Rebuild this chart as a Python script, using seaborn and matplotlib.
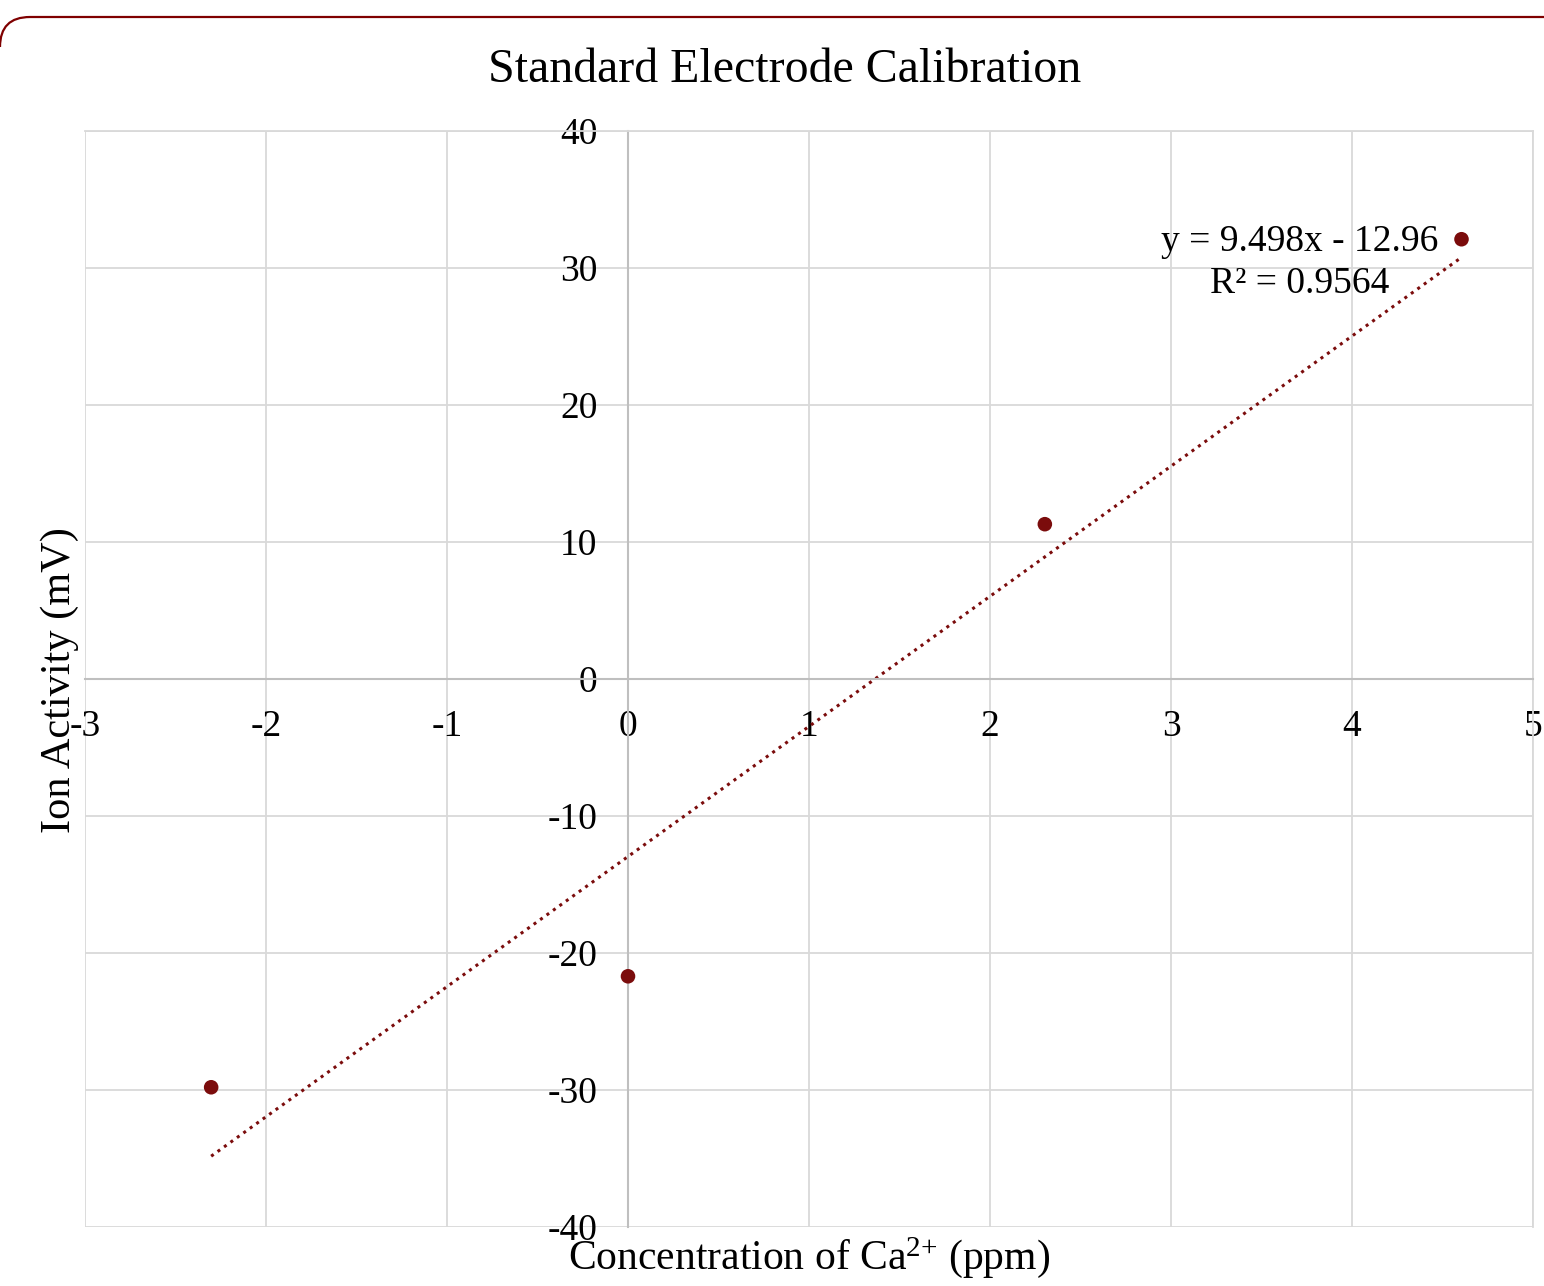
import matplotlib
matplotlib.use("Agg")
import matplotlib.pyplot as plt
import seaborn as sns
import pandas as pd
from matplotlib.patches import PathPatch
from matplotlib.path import Path
from matplotlib.transforms import IdentityTransform

# calibration data: ln(concentration) vs electrode potential
conc_ln = [-2.303, 0.0, 2.303, 4.605]
ion_mv = [-29.8, -21.7, 11.3, 32.1]
x_ticks = [-3, -2, -1, 0, 1, 2, 3, 4, 5]
y_ticks = [-40, -30, -20, -10, 0, 10, 20, 30, 40]
fit_text = "y = 9.498x - 12.96\nR\u00b2 = 0.9564"

df = pd.DataFrame({"conc": conc_ln, "mv": ion_mv})

sns.set_style("white")
plt.rcParams["font.family"] = ["Liberation Serif", "DejaVu Serif"]
plt.rcParams["mathtext.fontset"] = "custom"
plt.rcParams["mathtext.rm"] = "Liberation Serif"
plt.rcParams["mathtext.it"] = "Liberation Serif"
plt.rcParams["mathtext.default"] = "regular"
plt.rcParams["axes.unicode_minus"] = False
plt.rcParams["text.color"] = "black"

dark_red = "#7b0c0c"
grid_col = "#d9d9d9"

fig = plt.figure(figsize=(15.44, 12.86), dpi=100)
W, H = 1544, 1286

# rounded corner + top edge of the chart frame (pixel coordinates)
top = H - 17
frame = Path([(0, top - 30), (0, top), (30, top), (W + 10, top)],
             [Path.MOVETO, Path.CURVE3, Path.CURVE3, Path.LINETO])
fig.patches.append(PathPatch(frame, transform=IdentityTransform(), fill=False,
                             edgecolor="#7f0000", linewidth=1.6))

ax = fig.add_axes([85 / W, 1 - 1227 / H, (1533 - 85) / W, (1227 - 131) / H])

sns.regplot(data=df, x="conc", y="mv", ci=None, ax=ax,
            scatter=False,
            line_kws=dict(color=dark_red, linestyle=(0, (1, 1.6)), linewidth=2.2))
sns.scatterplot(data=df, x="conc", y="mv", ax=ax, color=dark_red,
                s=110, edgecolor="none", zorder=5)

ax.set_xlim(-3, 5)
ax.set_ylim(-40, 40)
ax.set_xticks(x_ticks)
ax.set_yticks(y_ticks)
ax.grid(True, color=grid_col, linewidth=1.3)
ax.set_axisbelow(True)

for side in ["top", "right"]:
    ax.spines[side].set_color(grid_col)
    ax.spines[side].set_linewidth(1.3)
ax.spines["left"].set_position(("data", 0))
ax.spines["bottom"].set_position(("data", 0))
ax.spines["left"].set_color("#bfbfbf")
ax.spines["bottom"].set_color("#bfbfbf")
ax.spines["left"].set_linewidth(1.5)
ax.spines["bottom"].set_linewidth(1.5)

ax.tick_params(axis="both", length=0, labelsize=27, colors="black")
ax.tick_params(axis="y", pad=22)
ax.tick_params(axis="x", pad=22)
ax.set_xlabel("")
ax.set_ylabel("")

ax.text(3.713, 30.4, fit_text, fontsize=27, ha="center", va="center",
        multialignment="center", linespacing=1.3, zorder=6)

fig.text(785 / W, 1 - 70 / H, "Standard Electrode Calibration",
         fontsize=34.5, ha="center", va="center")
fig.text(809 / W, 1 - 1258 / H, r"Concentration of Ca$^{2{+}}$ (ppm)",
         fontsize=30, ha="center", va="center")
fig.text(60 / W, 1 - 680 / H, "Ion Activity (mV)", fontsize=30.5,
         ha="center", va="center", rotation=90)

fig.savefig("out.png", dpi=100)
